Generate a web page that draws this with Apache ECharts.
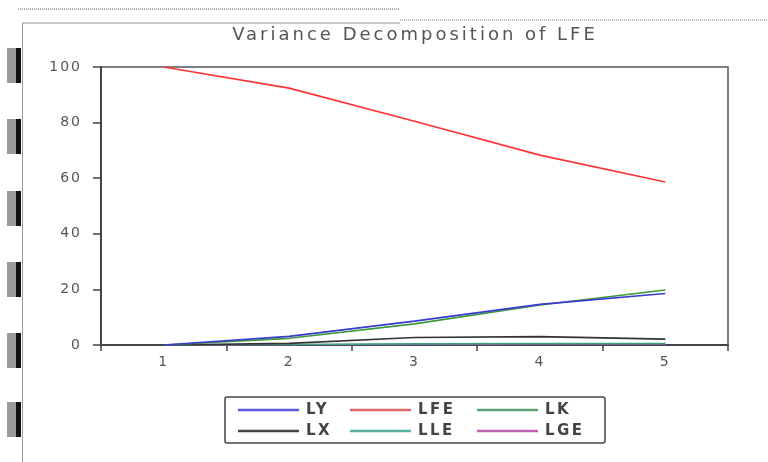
<!DOCTYPE html>
<html>
<head>
<meta charset="utf-8">
<script src="https://cdn.jsdelivr.net/npm/echarts@6/dist/echarts.min.js"></script>
<style>
html,body{margin:0;padding:0;background:#fff;}
#c{width:768px;height:462px;}
</style>
</head>
<body>
<div id="c"></div>
<script>
var periods = ['1', '2', '3', '4', '5'];
var yTicks = [0, 20, 40, 60, 80, 100];
var LY  = [0, 3.1, 8.6, 14.6, 18.5];
var LFE = [100, 92.4, 80.5, 68.3, 58.6];
var LK  = [0, 2.4, 7.6, 14.4, 19.8];
var LX  = [0, 0.6, 2.7, 3.0, 2.1];
var LLE = [0, 0.2, 0.4, 0.5, 0.5];
var LGE = [0, 0.1, 0.2, 0.3, 0.3];

var titleText = 'Variance Decomposition of LFE';
var seriesNames = ['LY', 'LFE', 'LK', 'LX', 'LLE', 'LGE'];
var seriesData = [LY, LFE, LK, LX, LLE, LGE];
var colors = ['#3a3ad0', '#ff3333', '#3a9a3a', '#333333', '#3aa08a', '#b03aa0'];
var legendColors = ['#5a5ad8', '#e06a6a', '#5aa070', '#444444', '#5ab0a0', '#c060b0'];

// letter spacing for the widely spaced texts of the original
var spacing = {};
spacing[titleText] = '3px';
seriesNames.forEach(function (n) { spacing[n] = '2.5px'; });
yTicks.forEach(function (v) { spacing[String(v)] = '2px'; });
(function () {
  var proto = CanvasRenderingContext2D.prototype;
  var orig = proto.fillText;
  proto.fillText = function (t, x, y, m) {
    var ls = spacing[t];
    if (ls && 'letterSpacing' in this) {
      var old = this.letterSpacing;
      this.letterSpacing = ls;
      var r = m === undefined ? orig.call(this, t, x, y) : orig.call(this, t, x, y, m);
      this.letterSpacing = old;
      return r;
    }
    return orig.apply(this, arguments);
  };
})();

var chart = echarts.init(document.getElementById('c'), null, {renderer: 'canvas'});

var drawOrder = [5, 4, 3, 2, 0, 1];
var series = drawOrder.map(function (i) {
  return {
    name: seriesNames[i],
    type: 'line',
    data: seriesData[i],
    showSymbol: false,
    symbol: 'none',
    lineStyle: {color: colors[i], width: 1.6},
    itemStyle: {color: legendColors[i]},
    z: 2 + drawOrder.indexOf(i)
  };
});

function legendCol(names, left) {
  return {
    orient: 'vertical',
    left: left,
    top: 402,
    data: names,
    icon: 'rect',
    itemWidth: 61,
    itemHeight: 2.5,
    itemGap: 5,
    padding: 0,
    textStyle: {fontFamily: 'DejaVu Sans', fontSize: 15, color: '#444', fontWeight: 'bold', lineHeight: 16, padding: [0, 0, 0, 2]},
    selectedMode: false
  };
}

var blocks = [[48, 83], [119, 154], [191, 226], [262, 297], [333, 368], [402, 437]];
var graphics = [
  {type: 'line', shape: {x1: 18, y1: 9, x2: 400, y2: 9}, style: {stroke: '#aaa', lineWidth: 2, lineDash: [1, 1]}},
  {type: 'line', shape: {x1: 400, y1: 20, x2: 768, y2: 20}, style: {stroke: '#aaa', lineWidth: 1.5, lineDash: [1, 1]}},
  {type: 'line', shape: {x1: 22, y1: 23, x2: 400, y2: 23}, style: {stroke: '#999', lineWidth: 1}},
  {type: 'line', shape: {x1: 22.5, y1: 23, x2: 22.5, y2: 462}, style: {stroke: '#999', lineWidth: 1}},
  {type: 'rect', shape: {x: 225, y: 397, width: 380, height: 46, r: 2}, style: {fill: 'none', stroke: '#444', lineWidth: 1.5}}
];
blocks.forEach(function (b) {
  graphics.push({type: 'rect', shape: {x: 7, y: b[0], width: 10, height: b[1] - b[0]}, style: {fill: '#9a9a9a'}});
  graphics.push({type: 'rect', shape: {x: 16, y: b[0], width: 5, height: b[1] - b[0]}, style: {fill: '#111'}});
});

chart.setOption({
  animation: false,
  backgroundColor: '#fff',
  color: legendColors,
  title: {
    text: titleText,
    left: 410,
    textAlign: 'center',
    top: 21,
    textStyle: {fontFamily: 'DejaVu Sans', fontSize: 18, fontWeight: 'normal', color: '#555'}
  },
  grid: {
    left: 101, right: 40, top: 67, bottom: 117,
    show: true, borderColor: '#555', borderWidth: 1.5, backgroundColor: 'transparent'
  },
  legend: [
    legendCol(['LY', 'LX'], 238),
    legendCol(['LFE', 'LLE'], 350),
    legendCol(['LK', 'LGE'], 477)
  ],
  xAxis: {
    type: 'category',
    data: periods,
    boundaryGap: true,
    axisLine: {lineStyle: {color: '#444', width: 2}},
    axisTick: {show: true, length: 6, lineStyle: {color: '#444', width: 1.5}},
    axisLabel: {fontFamily: 'DejaVu Sans', fontSize: 14, color: '#555', margin: 10}
  },
  yAxis: {
    type: 'value',
    min: 0, max: 100, interval: 20,
    splitLine: {show: false},
    axisLine: {show: true, lineStyle: {color: '#444', width: 2}},
    axisTick: {show: true, length: 8, lineStyle: {color: '#444', width: 1.5}},
    axisLabel: {fontFamily: 'DejaVu Sans', fontSize: 14, color: '#555', margin: 19,
      formatter: function (v) { return yTicks.indexOf(v) >= 0 ? String(v) : ''; }}
  },
  graphic: graphics,
  series: series
});
</script>
</body>
</html>
